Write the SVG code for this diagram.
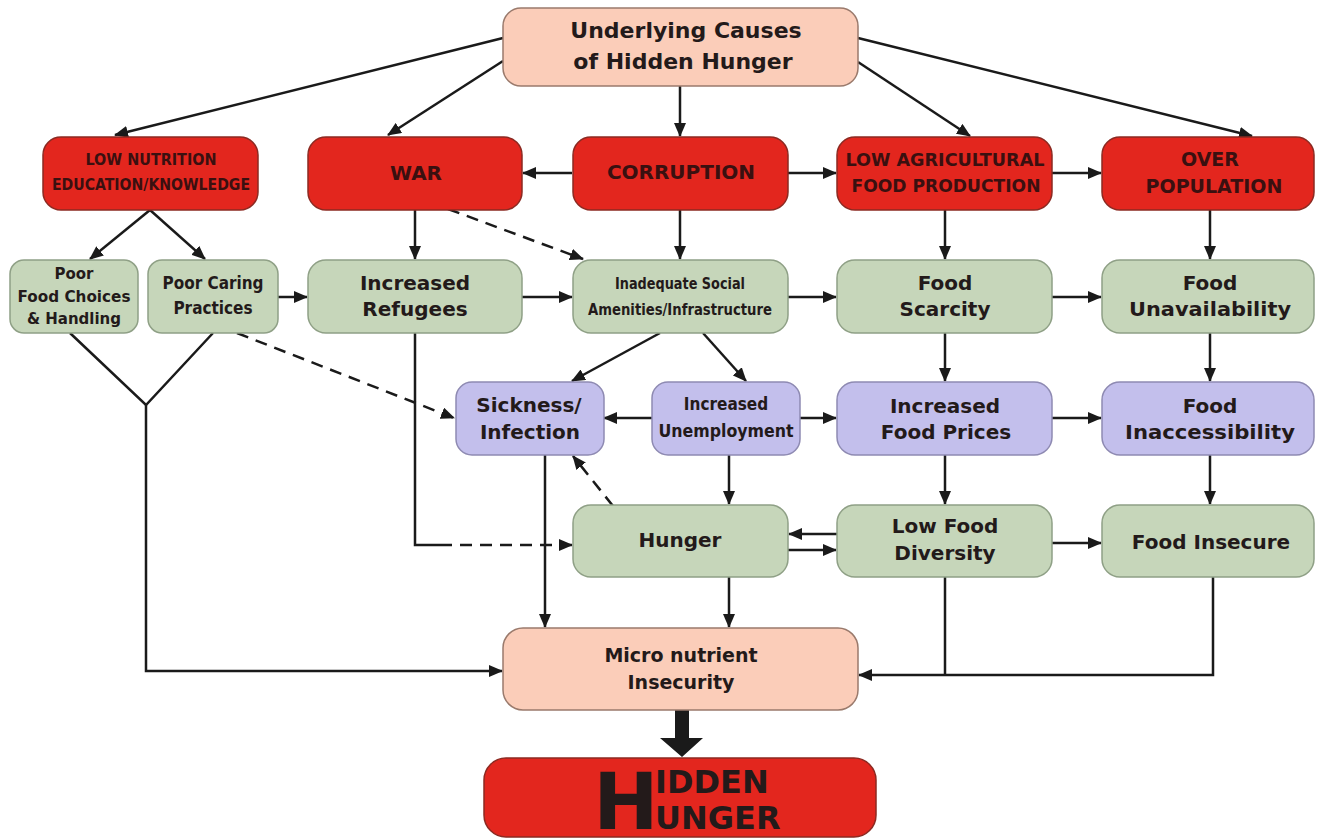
<svg xmlns="http://www.w3.org/2000/svg" width="1322" height="839" viewBox="0 0 1322 839">
<defs>
<marker id="ah" markerUnits="userSpaceOnUse" markerWidth="14" markerHeight="12" refX="13" refY="6" orient="auto">
<path d="M0,0 L14,6 L0,12 z" fill="#1a1a1a"/>
</marker>
<style>
.red{fill:#e3261e;stroke:#8c2a22;stroke-width:1.5}
.pink{fill:#fbcdb9;stroke:#9a7a6c;stroke-width:1.5}
.green{fill:#c6d6ba;stroke:#8fa086;stroke-width:1.5}
.purple{fill:#c3bfec;stroke:#8e8ab2;stroke-width:1.5}
text{font-family:"DejaVu Sans",Verdana,sans-serif;font-weight:bold;fill:#231a1a;text-anchor:middle}
.rt{fill:#3a1010}
.cd{font-family:"DejaVu Sans Condensed","DejaVu Sans",sans-serif}
.ln{fill:none;stroke:#1a1a1a;stroke-width:2.5}
.ar{marker-end:url(#ah)}
.ds{stroke-dasharray:12,8}
</style>
</defs>

<g id="connectors">
<line class="ln ar" x1="503" y1="38" x2="115" y2="135"/>
<line class="ln ar" x1="503" y1="61" x2="388" y2="135"/>
<line class="ln ar" x1="680" y1="86" x2="680" y2="136"/>
<line class="ln ar" x1="858" y1="62" x2="970" y2="136"/>
<line class="ln ar" x1="858" y1="38" x2="1252" y2="136"/>
<line class="ln ar" x1="572" y1="173" x2="523" y2="173"/>
<line class="ln ar" x1="788" y1="173" x2="836" y2="173"/>
<line class="ln ar" x1="1052" y1="173" x2="1101" y2="173"/>
<line class="ln ar" x1="150" y1="210" x2="90" y2="259"/>
<line class="ln ar" x1="150" y1="210" x2="205" y2="259"/>
<line class="ln ar" x1="415" y1="210" x2="415" y2="259"/>
<line class="ln ar ds" x1="448" y1="209" x2="583" y2="259"/>
<line class="ln ar" x1="680" y1="210" x2="680" y2="259"/>
<line class="ln ar" x1="945" y1="210" x2="945" y2="259"/>
<line class="ln ar" x1="1210" y1="210" x2="1210" y2="259"/>
<line class="ln ar" x1="278" y1="297" x2="307" y2="297"/>
<line class="ln ar" x1="522" y1="297" x2="572" y2="297"/>
<line class="ln ar" x1="788" y1="297" x2="836" y2="297"/>
<line class="ln ar" x1="1052" y1="297" x2="1101" y2="297"/>
<polyline class="ln" points="70,333 146,405 213,333"/>
<polyline class="ln ar" points="146,405 146,671 502,671"/>
<line class="ln ar ds" x1="237" y1="333" x2="454" y2="418"/>
<polyline class="ln" points="415,333 415,545 440,545"/>
<line class="ln ar ds" x1="440" y1="545" x2="572" y2="545"/>
<line class="ln ar" x1="660" y1="333" x2="572" y2="381"/>
<line class="ln ar" x1="703" y1="333" x2="746" y2="381"/>
<line class="ln ar" x1="652" y1="418" x2="604" y2="418"/>
<line class="ln ar" x1="800" y1="418" x2="836" y2="418"/>
<line class="ln ar" x1="1052" y1="418" x2="1101" y2="418"/>
<line class="ln ar" x1="945" y1="333" x2="945" y2="381"/>
<line class="ln ar" x1="1210" y1="333" x2="1210" y2="381"/>
<line class="ln ar" x1="729" y1="455" x2="729" y2="504"/>
<line class="ln ar" x1="945" y1="455" x2="945" y2="504"/>
<line class="ln ar" x1="1210" y1="455" x2="1210" y2="504"/>
<line class="ln ar ds" x1="613" y1="506" x2="573" y2="456"/>
<line class="ln ar" x1="837" y1="534" x2="789" y2="534"/>
<line class="ln ar" x1="788" y1="550" x2="836" y2="550"/>
<line class="ln ar" x1="1052" y1="543" x2="1101" y2="543"/>
<line class="ln ar" x1="545" y1="455" x2="545" y2="627"/>
<line class="ln ar" x1="729" y1="577" x2="729" y2="627"/>
<line class="ln" x1="945" y1="577" x2="945" y2="675"/>
<polyline class="ln ar" points="1213,577 1213,675 859,675"/>
<polygon points="675,710 689,710 689,738 703,738 682,757 660,738 675,738" fill="#1a1a1a"/>
</g>

<g id="underlying">
<rect class="pink" x="503" y="8" width="355" height="78" rx="18"/>
<text x="686" y="38" font-size="22">Underlying Causes</text>
<text x="683" y="69" font-size="22">of Hidden Hunger</text>
</g>

<g id="low-nutrition">
<rect class="red" x="43" y="137" width="215" height="73" rx="18"/>
<text class="cd rt" x="151" y="165" font-size="16" textLength="131" lengthAdjust="spacingAndGlyphs">LOW NUTRITION</text>
<text class="cd rt" x="151" y="190" font-size="16" textLength="198" lengthAdjust="spacingAndGlyphs">EDUCATION/KNOWLEDGE</text>
</g>

<g id="war">
<rect class="red" x="308" y="137" width="214" height="73" rx="18"/>
<text class="rt" x="416" y="180" font-size="20">WAR</text>
</g>

<g id="corruption">
<rect class="red" x="573" y="137" width="215" height="73" rx="18"/>
<text class="rt" x="681" y="179" font-size="20">CORRUPTION</text>
</g>

<g id="low-agri">
<rect class="red" x="837" y="137" width="215" height="73" rx="18"/>
<text class="cd rt" x="945" y="166" font-size="18" textLength="199" lengthAdjust="spacingAndGlyphs">LOW AGRICULTURAL</text>
<text class="cd rt" x="946" y="192" font-size="18" textLength="189" lengthAdjust="spacingAndGlyphs">FOOD PRODUCTION</text>
</g>

<g id="over-population">
<rect class="red" x="1102" y="137" width="212" height="73" rx="18"/>
<text class="rt" x="1210" y="166" font-size="19">OVER</text>
<text class="rt" x="1214" y="193" font-size="19">POPULATION</text>
</g>

<g id="poor-food-choices">
<rect class="green" x="10" y="260" width="128" height="73" rx="14"/>
<text x="74" y="279" font-size="15">Poor</text>
<text x="74" y="302" font-size="15" textLength="113" lengthAdjust="spacingAndGlyphs">Food Choices</text>
<text x="74" y="324" font-size="15">&amp; Handling</text>
</g>

<g id="poor-caring">
<rect class="green" x="148" y="260" width="130" height="73" rx="14"/>
<text class="cd" x="213" y="289" font-size="17" textLength="101" lengthAdjust="spacingAndGlyphs">Poor Caring</text>
<text class="cd" x="213" y="314" font-size="17">Practices</text>
</g>

<g id="refugees">
<rect class="green" x="308" y="260" width="214" height="73" rx="18"/>
<text x="415" y="290" font-size="20">Increased</text>
<text x="415" y="316" font-size="20">Refugees</text>
</g>

<g id="inadequate">
<rect class="green" x="573" y="260" width="215" height="73" rx="18"/>
<text class="cd" x="680" y="289" font-size="16" textLength="130" lengthAdjust="spacingAndGlyphs">Inadequate Social</text>
<text class="cd" x="680" y="315" font-size="16" textLength="184" lengthAdjust="spacingAndGlyphs">Amenities/Infrastructure</text>
</g>

<g id="food-scarcity">
<rect class="green" x="837" y="260" width="215" height="73" rx="18"/>
<text x="945" y="290" font-size="20">Food</text>
<text x="945" y="316" font-size="20">Scarcity</text>
</g>

<g id="food-unavailability">
<rect class="green" x="1102" y="260" width="212" height="73" rx="18"/>
<text x="1210" y="290" font-size="20">Food</text>
<text x="1210" y="316" font-size="20" textLength="162" lengthAdjust="spacingAndGlyphs">Unavailability</text>
</g>

<g id="sickness">
<rect class="purple" x="456" y="382" width="148" height="73" rx="16"/>
<text x="529" y="412" font-size="20">Sickness/</text>
<text x="530" y="439" font-size="20">Infection</text>
</g>

<g id="unemployment">
<rect class="purple" x="652" y="382" width="148" height="73" rx="16"/>
<text class="cd" x="726" y="410" font-size="17">Increased</text>
<text class="cd" x="726" y="437" font-size="17" textLength="135" lengthAdjust="spacingAndGlyphs">Unemployment</text>
</g>

<g id="food-prices">
<rect class="purple" x="837" y="382" width="215" height="73" rx="18"/>
<text x="945" y="413" font-size="20">Increased</text>
<text x="946" y="439" font-size="20">Food Prices</text>
</g>

<g id="food-inaccessibility">
<rect class="purple" x="1102" y="382" width="212" height="73" rx="18"/>
<text x="1210" y="413" font-size="20">Food</text>
<text x="1210" y="439" font-size="20" textLength="170" lengthAdjust="spacingAndGlyphs">Inaccessibility</text>
</g>

<g id="hunger">
<rect class="green" x="573" y="505" width="215" height="72" rx="18"/>
<text x="680" y="547" font-size="20">Hunger</text>
</g>

<g id="low-food-diversity">
<rect class="green" x="837" y="505" width="215" height="72" rx="18"/>
<text x="945" y="533" font-size="20">Low Food</text>
<text x="945" y="560" font-size="20">Diversity</text>
</g>

<g id="food-insecure">
<rect class="green" x="1102" y="505" width="212" height="72" rx="18"/>
<text x="1211" y="549" font-size="20">Food Insecure</text>
</g>

<g id="micro-nutrient">
<rect class="pink" x="503" y="628" width="355" height="82" rx="20"/>
<text x="681" y="662" font-size="19">Micro nutrient</text>
<text x="681" y="689" font-size="19">Insecurity</text>
</g>

<g id="hidden-hunger">
<rect class="red" x="484" y="758" width="392" height="79" rx="22"/>
<text x="626" y="829" font-size="78" fill="#231414">H</text>
<text x="655" y="793" font-size="32" style="text-anchor:start">IDDEN</text>
<text x="655" y="829" font-size="32" style="text-anchor:start">UNGER</text>
</g>
</svg>
